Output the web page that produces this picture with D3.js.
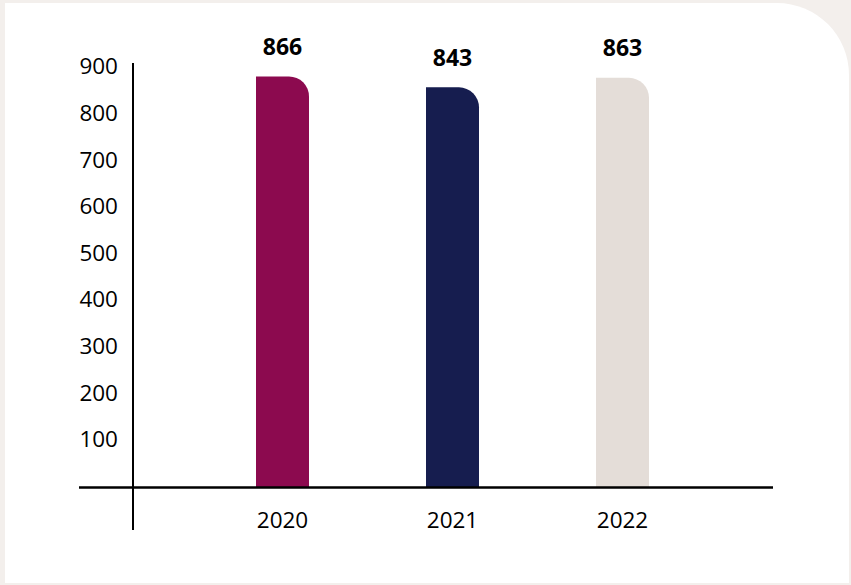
<!DOCTYPE html>
<html>
<head>
<meta charset="utf-8">
<script src="https://cdn.jsdelivr.net/npm/d3@7"></script>
<style>
  html, body { margin: 0; padding: 0; background: #f3efec; }
  svg { display: block; }
</style>
</head>
<body>
<script>
// Yearly totals
const years = ["2020", "2021", "2022"];
const values = [866, 843, 863];
const barColors = ["#8c0a4f", "#161d4f", "#e4ddd8"];
const yTicks = [100, 200, 300, 400, 500, 600, 700, 800, 900];

const W = 851, H = 585;
const svg = d3.select("body").append("svg").attr("width", W).attr("height", H);

// background panel with rounded top-right corner
const card = { x0: 5, y0: 3, x1: 849, y1: 583, r: 72 };
svg.append("path")
  .attr("d", `M${card.x0},${card.y0} H${card.x1 - card.r} A${card.r},${card.r} 0 0 1 ${card.x1},${card.y0 + card.r} V${card.y1} H${card.x0} Z`)
  .attr("fill", "#ffffff");

const baseY = 487.5;
const y = d3.scaleLinear().domain([0, 900]).range([baseY, 60.3]);
// tick label placement
const yLabel = d3.scaleLinear().domain([0, 900]).range([485.3, 65.8]);

const x = d3.scaleBand()
  .domain(years)
  .range([197.5, 707.5])
  .paddingInner(1 - 53 / 170)
  .paddingOuter((1 - 53 / 170) / 2);

const font = "'Open Sans', 'Noto Sans', sans-serif";

// bars: square left side, rounded top-right corner
const rad = 20;
function barPath(x0, w, top, bottom) {
  const r = Math.min(rad, w, bottom - top);
  return `M${x0},${bottom} V${top} H${x0 + w - r} A${r},${r} 0 0 1 ${x0 + w},${top + r} V${bottom} Z`;
}

svg.append("g").selectAll("path")
  .data(years)
  .join("path")
  .attr("d", (d, i) => barPath(x(d), x.bandwidth(), y(values[i]), baseY))
  .attr("fill", (d, i) => barColors[i]);

// value labels
svg.append("g").selectAll("text")
  .data(years)
  .join("text")
  .attr("x", d => x(d) + x.bandwidth() / 2)
  .attr("y", (d, i) => y(values[i]) - 21.5)
  .attr("text-anchor", "middle")
  .attr("font-family", font)
  .attr("font-weight", 700)
  .attr("font-size", 23)
  .attr("fill", "#000")
  .text((d, i) => values[i]);

// y axis tick labels
const yAxis = d3.axisLeft(yLabel).tickValues(yTicks).tickSize(0).tickPadding(0);
const gy = svg.append("g").attr("transform", "translate(118,0)").call(yAxis);
gy.select(".domain").remove();
gy.selectAll("text")
  .attr("font-family", font)
  .attr("font-size", 22.5)
  .attr("fill", "#000")
  .attr("dy", "0.36em");

// x axis labels
const xAxis = d3.axisBottom(x).tickSize(0).tickPadding(0);
const gx = svg.append("g").attr("transform", "translate(0,528)").call(xAxis);
gx.select(".domain").remove();
gx.selectAll("text")
  .attr("font-family", font)
  .attr("font-size", 22.5)
  .attr("fill", "#000")
  .attr("dy", "0");

// axis lines
svg.append("line")
  .attr("x1", 133).attr("x2", 133)
  .attr("y1", 63).attr("y2", 530)
  .attr("stroke", "#000").attr("stroke-width", 2);
svg.append("line")
  .attr("x1", 79).attr("x2", 773)
  .attr("y1", baseY).attr("y2", baseY)
  .attr("stroke", "#000").attr("stroke-width", 2.5);
</script>
</body>
</html>
